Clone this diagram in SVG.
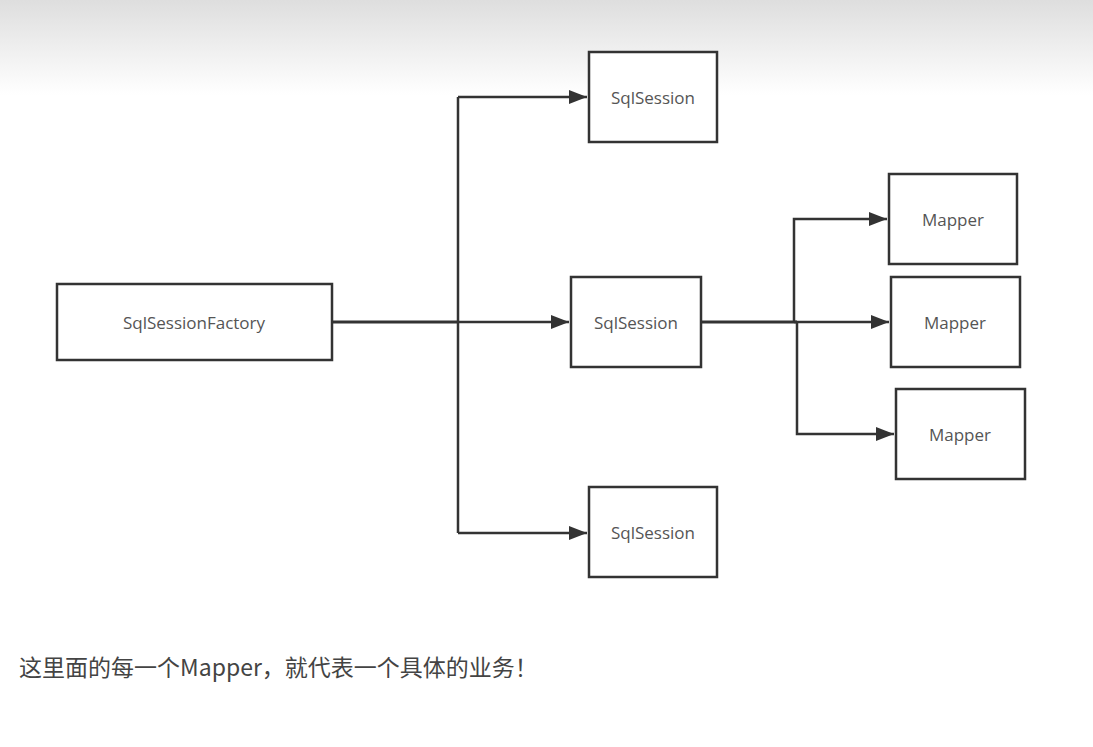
<svg xmlns="http://www.w3.org/2000/svg" width="1093" height="747" viewBox="0 0 1093 747">
<defs>
<linearGradient id="bg" x1="0" y1="0" x2="0" y2="1">
<stop offset="0" stop-color="#dedede"/>
<stop offset="1" stop-color="#ffffff"/>
</linearGradient>
<marker id="arr" viewBox="0 0 18 14" refX="18" refY="7" markerWidth="18" markerHeight="14" markerUnits="userSpaceOnUse" orient="auto">
<path d="M0,0 L18,7 L0,14 Z" fill="#333"/>
</marker>
<style>
.box{fill:#fff;stroke:#333;stroke-width:2.5}
.lbl{font-family:"Open Sans","Noto Sans","Noto Sans CJK SC",sans-serif;font-size:17px;fill:#555;text-anchor:middle;dominant-baseline:central}
.ln{fill:none;stroke:#333;stroke-width:2.5}
.trunk{fill:none;stroke:#333;stroke-width:3}
</style>
</defs>
<rect x="0" y="0" width="1093" height="747" fill="#fff"/>
<rect x="0" y="0" width="1093" height="95" fill="url(#bg)"/>
<g id="connectors">
<path class="trunk" d="M332,322 H458"/>
<path class="ln" d="M458,97 V533"/>
<path class="ln" d="M458,97 H587" marker-end="url(#arr)"/>
<path class="ln" d="M458,322 H569" marker-end="url(#arr)"/>
<path class="ln" d="M458,533 H587" marker-end="url(#arr)"/>
<path class="trunk" d="M701,322 H797"/>
<path class="ln" d="M794,322 V219 H887" marker-end="url(#arr)"/>
<path class="ln" d="M794,322 H889" marker-end="url(#arr)"/>
<path class="ln" d="M797,322 V434 H894" marker-end="url(#arr)"/>
</g>
<g id="factory">
<rect class="box" x="57" y="284" width="275" height="76"/>
<text class="lbl" x="194" y="322">SqlSessionFactory</text>
</g>
<g id="session1">
<rect class="box" x="589" y="52" width="128" height="90"/>
<text class="lbl" x="653" y="97">SqlSession</text>
</g>
<g id="session2">
<rect class="box" x="571" y="277" width="130" height="90"/>
<text class="lbl" x="636" y="322">SqlSession</text>
</g>
<g id="session3">
<rect class="box" x="589" y="487" width="128" height="90"/>
<text class="lbl" x="653" y="532">SqlSession</text>
</g>
<g id="mapper1">
<rect class="box" x="889" y="174" width="128" height="90"/>
<text class="lbl" x="953" y="219">Mapper</text>
</g>
<g id="mapper2">
<rect class="box" x="891" y="277" width="129" height="90"/>
<text class="lbl" x="955" y="322">Mapper</text>
</g>
<g id="mapper3">
<rect class="box" x="896" y="389" width="129" height="90"/>
<text class="lbl" x="960" y="434">Mapper</text>
</g>
<text x="19" y="676" font-family="'Noto Sans CJK SC','Open Sans',sans-serif" font-size="23" fill="#444">这里面的每一个Mapper，就代表一个具体的业务！</text>
</svg>
